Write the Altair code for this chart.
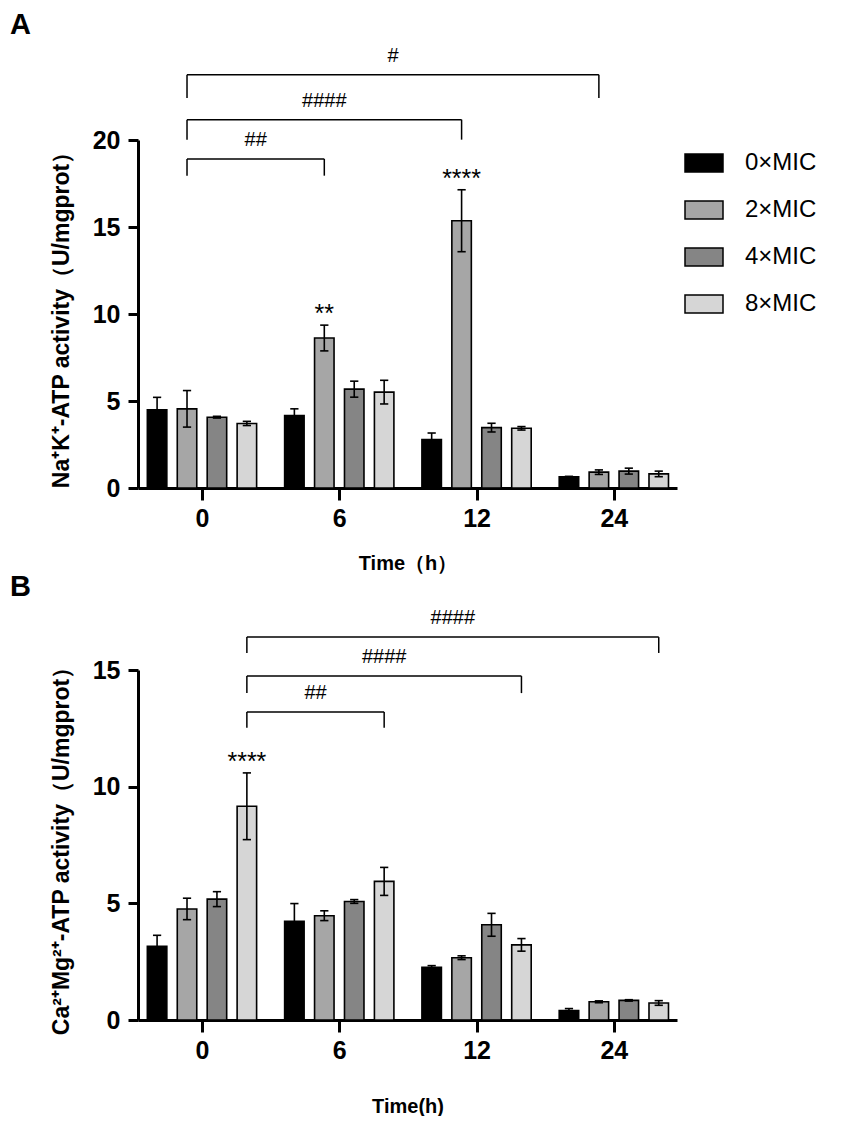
import altair as alt
import pandas as pd

FONT = "Liberation Sans, Arial, Helvetica, sans-serif"

times = ["0", "6", "12", "24"]
groups = ["0×MIC", "2×MIC", "4×MIC", "8×MIC"]
colors = ["#000000", "#a6a6a6", "#858585", "#d6d6d6"]

# Panel A: Na+K+-ATP activity (U/mgprot), one list per group over the four times
a_mean_0mic = [4.49, 4.17, 2.78, 0.64]
a_mean_2mic = [4.55, 8.62, 15.36, 0.91]
a_mean_4mic = [4.07, 5.68, 3.47, 0.97]
a_mean_8mic = [3.71, 5.51, 3.43, 0.81]
a_sd_0mic = [0.72, 0.38, 0.38, 0.03]
a_sd_2mic = [1.05, 0.74, 1.78, 0.13]
a_sd_4mic = [0.05, 0.46, 0.25, 0.17]
a_sd_8mic = [0.12, 0.68, 0.10, 0.16]

# Panel B: Ca2+Mg2+-ATP activity (U/mgprot)
b_mean_0mic = [3.16, 4.23, 2.26, 0.40]
b_mean_2mic = [4.76, 4.47, 2.67, 0.78]
b_mean_4mic = [5.18, 5.08, 4.08, 0.84]
b_mean_8mic = [9.16, 5.94, 3.22, 0.73]
b_sd_0mic = [0.47, 0.76, 0.07, 0.09]
b_sd_2mic = [0.46, 0.21, 0.08, 0.04]
b_sd_4mic = [0.32, 0.08, 0.49, 0.03]
b_sd_8mic = [1.43, 0.60, 0.27, 0.10]

# comparison brackets: from time "0" to each listed time, for one group
a_br_group = "2×MIC"
a_br_to = ["6", "12", "24"]
a_br_label = ["##", "####", "#"]
a_br_y = [18.91, 21.17, 23.75]
a_br_low = [17.95, 20.02, 22.41]

b_br_group = "8×MIC"
b_br_to = ["6", "12", "24"]
b_br_label = ["##", "####", "####"]
b_br_y = [13.20, 14.74, 16.41]
b_br_low = [12.52, 14.01, 15.73]

# significance vs control
a_sig_time = ["6", "12"]
a_sig_group = ["2×MIC", "2×MIC"]
a_sig_label = ["**", "****"]
b_sig_time = ["0"]
b_sig_group = ["8×MIC"]
b_sig_label = ["****"]

OFFSET = 0.218  # spacing between bars in a cluster (x units)
HALF = 0.071    # half bar width
CAP = 0.03      # half cap width
XDOM = [-0.466, 3.46]


def panel(means, sds, ymax, ytitle, xtitle, xtitle_pad, letter, height,
          br_group, br_to, br_label, br_y, br_low,
          sig_time, sig_group, sig_label, legend_y):
    rows = []
    for si, g in enumerate(groups):
        for ti, t in enumerate(times):
            rows.append(dict(time=t, tidx=ti, group=g, sidx=si,
                             mean=means[si][ti], sd=sds[si][ti]))
    df = pd.DataFrame(rows)

    label_expr = "[" + ",".join("'%s'" % t for t in times) + "][datum.value]"
    xscale = alt.Scale(domain=XDOM, nice=False, zero=False)
    xaxis = alt.Axis(values=list(range(len(times))), labelExpr=label_expr,
                     title=xtitle, titlePadding=xtitle_pad)
    yscale = alt.Scale(domain=[0, ymax], nice=False)
    yaxis = alt.Axis(values=list(range(0, ymax + 1, 5)), title=ytitle)

    def xenc(field):
        return alt.X(field, type="quantitative", scale=xscale, axis=xaxis)

    def yenc(field):
        return alt.Y(field, type="quantitative", scale=yscale, axis=yaxis)

    base = alt.Chart(df).transform_calculate(
        xc=f"datum.tidx + (datum.sidx - 1.5) * {OFFSET}",
    ).transform_calculate(
        xl=f"datum.xc - {HALF}", xr=f"datum.xc + {HALF}",
        cl=f"datum.xc - {CAP}", cr=f"datum.xc + {CAP}",
        lo="datum.mean - datum.sd", hi="datum.mean + datum.sd",
    )

    bars = base.mark_bar(stroke="black", strokeWidth=1.6).encode(
        x=xenc("xl"), x2="xr",
        y=yenc("mean"), y2=alt.datum(0),
        color=alt.Color("group:N", scale=alt.Scale(domain=groups, range=colors),
                        legend=alt.Legend(title=None, orient="none",
                                          legendX=546, legendY=legend_y,
                                          symbolType="M-1,-0.47H1V0.47H-1Z",
                                          symbolSize=1444,
                                          symbolStrokeColor="black",
                                          symbolStrokeWidth=1.5,
                                          labelFontSize=24, labelFont=FONT,
                                          labelOffset=21, rowPadding=15,
                                          padding=0)),
    )
    err = base.mark_rule(color="black", strokeWidth=1.6).encode(
        x=xenc("xc"), y=yenc("lo"), y2="hi")
    cap_hi = base.mark_rule(color="black", strokeWidth=1.6).encode(
        x=xenc("cl"), x2="cr", y=yenc("hi"))
    cap_lo = base.mark_rule(color="black", strokeWidth=1.6).encode(
        x=xenc("cl"), x2="cr", y=yenc("lo"))

    gi = groups.index(br_group)
    bdf = pd.DataFrame(dict(
        to_t=[times.index(t) for t in br_to],
        sidx=[gi] * len(br_to),
        y=br_y, low=br_low, label=br_label))
    bbase = alt.Chart(bdf).transform_calculate(
        x1=f"0 + (datum.sidx - 1.5) * {OFFSET}",
        x2=f"datum.to_t + (datum.sidx - 1.5) * {OFFSET}",
    ).transform_calculate(xm="(datum.x1 + datum.x2) / 2")
    bh = bbase.mark_rule(color="black", strokeWidth=1.5).encode(
        x=xenc("x1"), x2="x2", y=yenc("y"))
    bl = bbase.mark_rule(color="black", strokeWidth=1.5).encode(
        x=xenc("x1"), y=yenc("low"), y2="y")
    br = bbase.mark_rule(color="black", strokeWidth=1.5).encode(
        x=xenc("x2"), y=yenc("low"), y2="y")
    bt = bbase.mark_text(font=FONT, fontSize=20, baseline="alphabetic", dy=-13).encode(
        x=xenc("xm"), y=yenc("y"), text="label:N")

    sdf = pd.DataFrame(dict(
        tidx=[times.index(t) for t in sig_time],
        sidx=[groups.index(g) for g in sig_group],
        label=sig_label))
    sdf["top"] = [means[s][t] + sds[s][t] for s, t in zip(sdf["sidx"], sdf["tidx"])]
    st = alt.Chart(sdf).transform_calculate(
        xc=f"datum.tidx + (datum.sidx - 1.5) * {OFFSET}"
    ).mark_text(font=FONT, fontSize=25, baseline="alphabetic", dy=-3).encode(
        x=xenc("xc"), y=yenc("top"), text="label:N")

    return alt.layer(bars, err, cap_hi, cap_lo, bh, bl, br, bt, st).properties(
        width=539, height=height,
        title=alt.TitleParams(letter, anchor="start", frame="group", dx=-128,
                              fontSize=29, font=FONT, fontWeight="bold", offset=6),
    )


pa = panel([a_mean_0mic, a_mean_2mic, a_mean_4mic, a_mean_8mic],
           [a_sd_0mic, a_sd_2mic, a_sd_4mic, a_sd_8mic],
           20, "Na⁺K⁺-ATP activity（U/mgprot）", "Time（h）", 22, "A", 348,
           a_br_group, a_br_to, a_br_label, a_br_y, a_br_low,
           a_sig_time, a_sig_group, a_sig_label, 3)
pb = panel([b_mean_0mic, b_mean_2mic, b_mean_4mic, b_mean_8mic],
           [b_sd_0mic, b_sd_2mic, b_sd_4mic, b_sd_8mic],
           15, "Ca²⁺Mg²⁺-ATP activity（U/mgprot）", "Time(h)", 33, "B", 350,
           b_br_group, b_br_to, b_br_label, b_br_y, b_br_low,
           b_sig_time, b_sig_group, b_sig_label, 3)

chart = alt.vconcat(pa, pb, spacing=0).properties(
    padding={"left": 2, "top": 2, "right": 0, "bottom": 0}
).configure_view(stroke=None).configure_axis(
    grid=False, domainColor="black", tickColor="black",
    domainWidth=3, tickWidth=3,
    labelFont=FONT, labelFontWeight="bold", labelFontSize=25, labelColor="black",
    titleFont=FONT, titleFontWeight="bold", titleFontSize=20, titleColor="black",
).configure_axisX(tickSize=12, labelPadding=6).configure_axisY(
    tickSize=10, labelPadding=8, titlePadding=19, titleFontSize=23)

chart.save("out.html", embed_options={"renderer": "svg", "actions": False})
